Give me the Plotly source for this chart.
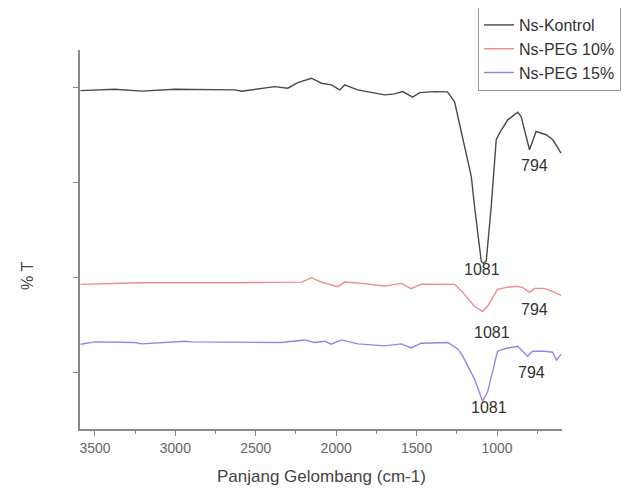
import plotly.graph_objects as go

# Wavenumber (cm-1) and %T
kontrol_wn = [3590, 3376, 3210, 3003, 2630, 2589, 2382, 2301, 2239, 2154, 2092, 2030, 1978, 1947,
              1867, 1761, 1699, 1637, 1587, 1525, 1481, 1388, 1308, 1264, 1213, 1160, 1140, 1098,
              1084, 1067, 1036, 1005, 985, 933, 871, 850, 798, 757, 695, 653, 602]
kontrol_t = [79.43, 79.73, 79.31, 79.73, 79.58, 79.31, 80.27, 79.94, 81.12, 82.04, 80.99, 80.63, 79.58, 80.63,
             79.58, 79.01, 78.53, 78.74, 79.22, 78.04, 79.01, 79.22, 79.16, 77.05, 69.05, 61.33, 55.01, 43.43,
             42.95, 43.43, 55.01, 69.05, 70.46, 73.26, 74.88, 73.96, 66.95, 70.80, 70.11, 69.05, 66.25]

peg10_wn = [3590, 3210, 2630, 2382, 2214, 2154, 2092, 1991, 1947, 1843, 1699, 1595, 1533, 1471,
            1264, 1213, 1140, 1090, 1059, 997, 941, 879, 842, 798, 767, 705, 655, 602]
peg10_t = [38.53, 38.88, 38.88, 38.88, 39.01, 39.94, 39.01, 38.04, 39.01, 38.74, 38.17, 38.74, 37.62, 38.59,
           38.53, 36.84, 33.89, 32.84, 33.89, 37.47, 37.89, 38.11, 37.89, 36.84, 37.68, 37.68, 37.05, 36.21]

peg15_wn = [3590, 3500, 3252, 3210, 2941, 2900, 2344, 2196, 2134, 2072, 2030, 1968, 1865, 1699, 1595,
            1533, 1471, 1305, 1243, 1213, 1140, 1090, 1059, 997, 941, 871, 810, 779, 705, 655, 630, 602]
peg15_t = [25.89, 26.38, 26.25, 25.96, 26.53, 26.38, 26.25, 26.80, 26.25, 26.53, 25.89, 26.80, 25.96, 25.54, 25.96,
           25.12, 26.11, 26.25, 24.84, 23.37, 18.53, 13.89, 15.79, 24.42, 25.05, 25.47, 23.37, 24.42, 24.42, 24.21, 22.53, 23.79]

series_names = ["Ns-Kontrol", "Ns-PEG 10%", "Ns-PEG 15%"]
series_colors = ["#4a4a4a", "#f08a8a", "#8a8ae6"]

peak_labels = ["1081", "794", "1081", "794", "1081", "794"]
peak_x = [1096, 767, 1034, 767, 1047, 786]
peak_y = [41.7, 63.6, 28.4, 33.3, 12.6, 20.0]

FONT = "Liberation Sans, Arial"

fig = go.Figure()
for wn, t, name, col in zip([kontrol_wn, peg10_wn, peg15_wn], [kontrol_t, peg10_t, peg15_t],
                            series_names, series_colors):
    fig.add_trace(go.Scatter(x=wn, y=t, mode="lines", name=name,
                             line=dict(color=col, width=1.4)))

for lab, px, py in zip(peak_labels, peak_x, peak_y):
    fig.add_annotation(x=px, y=py, text=lab, showarrow=False, xref="x", yref="y",
                       font=dict(size=16, color="#333333", family=FONT))

fig.add_annotation(text="% T", x=(27 - 80) / 482, y=(429 - 276) / 379, xref="paper", yref="paper",
                   xanchor="center", yanchor="middle", showarrow=False, textangle=-90,
                   font=dict(size=16, color="#444444", family=FONT))

fig.add_annotation(text="Panjang Gelombang (cm-1)", x=(321 - 80) / 482, y=(429 - 476) / 379,
                   xref="paper", yref="paper", xanchor="center", yanchor="middle", showarrow=False,
                   font=dict(size=17, color="#444444", family=FONT))

# page body has an 8px margin, so the figure is 8px smaller than the window
fig.update_layout(
    width=625, height=485,
    margin=dict(l=72, r=71, t=42, b=64, autoexpand=False),
    paper_bgcolor="white", plot_bgcolor="white",
    font=dict(family=FONT, size=11, color="#555555"),
    showlegend=True,
    legend=dict(x=(478 - 80) / 482, y=(429 - 7) / 379, xanchor="left", yanchor="top",
                bordercolor="#999999", borderwidth=1, bgcolor="white",
                font=dict(size=16, color="#333333"), tracegroupgap=0,
                itemwidth=30),
    xaxis=dict(range=[3593, 596], showgrid=False, zeroline=False,
               showline=True, linecolor="#888888", linewidth=1.5,
               ticks="outside", ticklen=5, tickcolor="#888888",
               tickvals=[3500, 3000, 2500, 2000, 1500, 1000],
               minor=dict(tickvals=[3250, 2750, 2250, 1750, 1250, 750], ticks="outside",
                          ticklen=3, tickcolor="#888888"),
               tickfont=dict(size=14, color="#666666")),
    yaxis=dict(range=[8, 88], showgrid=False, zeroline=False,
               showline=True, linecolor="#888888", linewidth=1.5,
               ticks="outside", ticklen=5, tickcolor="#888888",
               tickvals=[20, 40, 60, 80], showticklabels=False),
)

fig.write_html("out.html")
